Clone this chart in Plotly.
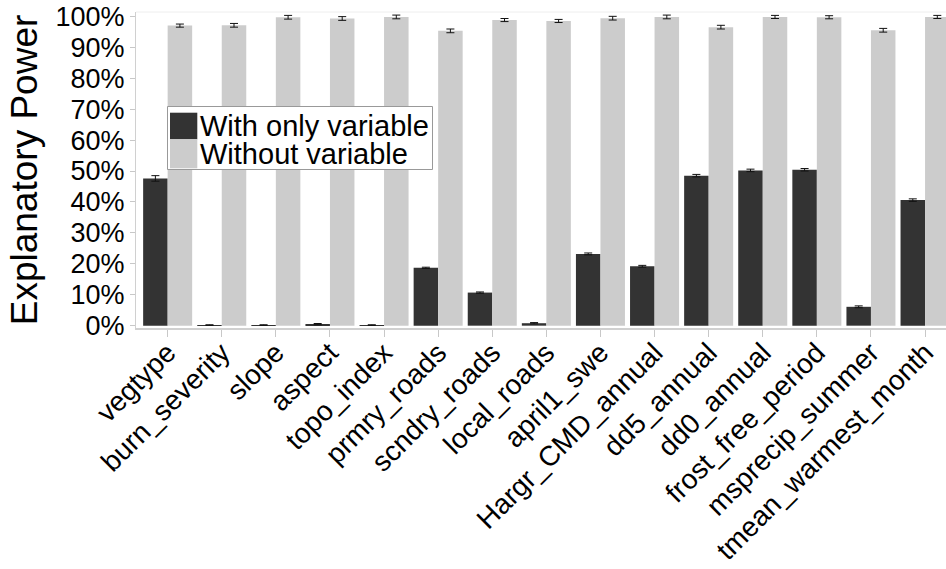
import plotly.graph_objects as go

# Predictor variables along the x axis
variables = [
    "vegtype", "burn_severity", "slope", "aspect", "topo_index",
    "prmry_roads", "scndry_roads", "local_roads", "april1_swe",
    "Hargr_CMD_annual", "dd5_annual", "dd0_annual", "frost_free_period",
    "msprecip_summer", "tmean_warmest_month",
]

# Explanatory power (%) of a model using only this variable
with_only = [47.6, 0.2, 0.2, 0.5, 0.2, 18.7, 10.7, 0.8, 23.2, 19.2,
             48.5, 50.2, 50.4, 6.1, 40.6]
with_only_err = [0.9, 0.1, 0.1, 0.2, 0.1, 0.2, 0.2, 0.2, 0.3, 0.3,
                 0.4, 0.4, 0.4, 0.3, 0.4]

# Explanatory power (%) of a model with every variable except this one
without = [97.0, 97.1, 99.7, 99.3, 99.8, 95.3, 98.8, 98.5, 99.4, 99.8,
           96.5, 99.8, 99.7, 95.5, 99.8]
without_err = [0.5, 0.6, 0.6, 0.6, 0.6, 0.6, 0.5, 0.5, 0.6, 0.6,
               0.6, 0.5, 0.5, 0.6, 0.5]

series_names = ["With only variable", "Without variable"]
series_colors = ["#333333", "#cccccc"]
y_ticks = list(range(0, 101, 10))
y_tick_text = [f"{t}%" for t in y_ticks]

W, H = 946, 569
L, T, R, B = 136, 12, 946, 328  # plot area in pixels


def px_x(p):
    return (p - L) / (R - L)


def px_y(p):
    return (B - p) / (B - T)


FONT = "Liberation Sans, Arial, sans-serif"

fig = go.Figure()
for name, vals, errs, col in [
    (series_names[0], with_only, with_only_err, series_colors[0]),
    (series_names[1], without, without_err, series_colors[1]),
]:
    fig.add_trace(go.Bar(
        x=variables, y=vals, name=name,
        marker=dict(color=col, line=dict(width=0)),
        error_y=dict(type="data", array=errs, visible=True,
                     color="#111111", thickness=1, width=4),
        showlegend=False,
    ))

# top frame line
fig.add_shape(type="line", xref="paper", yref="paper", x0=0, x1=1, y0=1, y1=1,
              line=dict(color="#eeeeee", width=1))

# legend box drawn by hand so the swatches can be full-height squares
fig.add_shape(type="rect", xref="paper", yref="paper",
              x0=px_x(167.5), x1=px_x(432.5), y0=px_y(169.5), y1=px_y(106.5),
              line=dict(color="#999999", width=1), fillcolor="white", layer="above")
swatch_rows = [(112.7, 139.3), (139.3, 168.3)]
for (ya, yb), col, name in zip(swatch_rows, series_colors, series_names):
    fig.add_shape(type="rect", xref="paper", yref="paper",
                  x0=px_x(170), x1=px_x(197.3), y0=px_y(yb), y1=px_y(ya),
                  line=dict(width=0), fillcolor=col, layer="above")
    fig.add_annotation(xref="paper", yref="paper", x=px_x(199), y=px_y((ya + yb) / 2),
                       text=name, showarrow=False, xanchor="left", yanchor="middle",
                       borderpad=0,
                       font=dict(family=FONT, size=29, color="black"))

fig.update_layout(
    width=W, height=H,
    margin=dict(l=L, r=W - R, t=T, b=H - B, pad=0),
    paper_bgcolor="white", plot_bgcolor="white",
    barmode="group", bargap=0.094, bargroupgap=0,
    font=dict(family=FONT, color="black"),
    xaxis=dict(
        range=[-0.585, -0.585 + (R - L) / 54.1],
        automargin=False,
        tickangle=-45, tickfont=dict(size=28), ticklabelstandoff=-12,
        showline=True, linecolor="#d0d0d0", linewidth=2,
        ticks="outside", ticklen=7, tickcolor="#c8c8c8", tickwidth=1,
        showgrid=False, zeroline=False,
    ),
    yaxis=dict(
        range=[-0.75, 101.4],
        automargin=False,
        tickvals=y_ticks, ticktext=y_tick_text, tickfont=dict(size=27),
        showline=True, linecolor="#d0d0d0", linewidth=1,
        ticks="outside", ticklen=5, tickcolor="#c8c8c8", tickwidth=1,
        showgrid=False, zeroline=False,
        title=dict(text="Explanatory Power", font=dict(size=37), standoff=6),
    ),
)

fig.write_html("out.html")
